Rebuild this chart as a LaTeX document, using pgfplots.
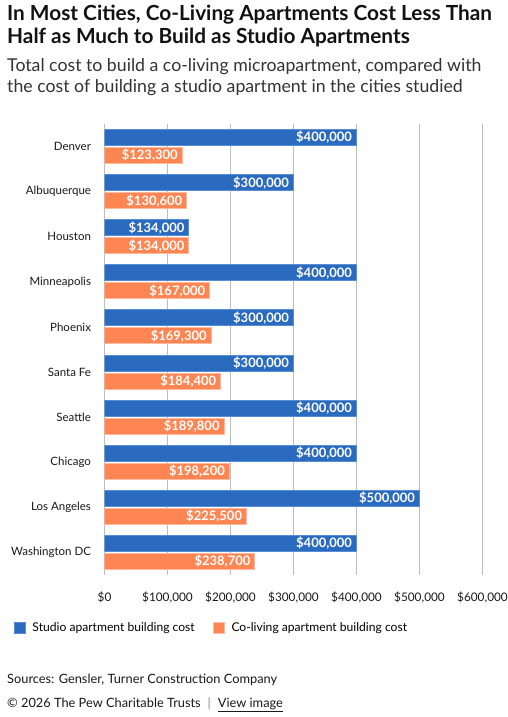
\documentclass[border=0pt]{standalone}
\usepackage{pgfplots}
\pgfplotsset{compat=1.18}
\usepackage{fontspec}
\setmainfont{Lato}
\definecolor{studio}{HTML}{2A6ABF}
\definecolor{studioedge}{HTML}{5A8ED3}
\definecolor{coliv}{HTML}{FF8552}
\definecolor{colivedge}{HTML}{FFBBA2}
\definecolor{gridgray}{HTML}{BDBDBD}
\definecolor{subgray}{HTML}{333333}
\begin{document}
\begin{tikzpicture}
\useasboundingbox (0pt,0pt) rectangle (508pt,-717pt);
\fill[white] (0pt,0pt) rectangle (508pt,-717pt);
\node[anchor=base west, inner sep=0pt, font=\fontsize{20.8}{24}\selectfont\bfseries, text=black!93] at (7pt,-20.7pt) {In Most Cities, Co-Living Apartments Cost Less Than};
\node[anchor=base west, inner sep=0pt, font=\fontsize{20.8}{24}\selectfont\bfseries, text=black!93] at (7pt,-44pt) {Half as Much to Build as Studio Apartments};
\node[anchor=base west, inner sep=0pt, font=\fontsize{17.7}{20}\selectfont, text=subgray] at (7pt,-71.7pt) {Total cost to build a co-living microapartment, compared with};
\node[anchor=base west, inner sep=0pt, font=\fontsize{17.7}{20}\selectfont, text=subgray] at (7pt,-92.7pt) {the cost of building a studio apartment in the cities studied};
\node[anchor=base west, inner sep=0pt, font=\fontsize{12.8}{16}\selectfont, text=black!90] at (7pt,-683.3pt) {Sources: Gensler, Turner Construction Company};
\node[anchor=base west, inner sep=0pt, font=\fontsize{12.8}{16}\selectfont, text=black!90] at (7pt,-707.7pt) {© 2026 The Pew Charitable Trusts\hspace{7pt}{\color{black!45}|}\hspace{7pt}\underline{View image}};
\begin{axis}[
  at={(104.5pt,-124pt)}, anchor=north west,
  scale only axis, width=378pt, height=451pt,
  xbar, bar width=16pt,
  xmin=0, xmax=600000, ymin=-0.5, ymax=9.5, y dir=reverse,
  scaled x ticks=false,
  xtick={0,100000,200000,300000,400000,500000,600000},
  xticklabels={{\$0},{\$100,000},{\$200,000},{\$300,000},{\$400,000},{\$500,000},{\$600,000}},
  ytick={0,1,2,3,4,5,6,7,8,9},
  yticklabels={Denver,Albuquerque,Houston,Minneapolis,Phoenix,Santa Fe,Seattle,Chicago,Los Angeles,Washington DC},
  xmajorgrids, ymajorgrids=false,
  grid style={draw=gridgray, line width=1pt},
  axis line style={draw=none},
  major tick length=0pt,
  xticklabel style={font=\fontsize{11.8}{13}\selectfont, text=black!90, anchor=base, yshift=-26pt},
  yticklabel style={font=\fontsize{11.5}{13}\selectfont, text=black!90, anchor=east, xshift=-10pt},
  /pgf/number format/assume math mode=true,
  point meta=x,
  nodes near coords={\$\pgfmathprintnumber[fixed,precision=0,1000 sep={,}]{\pgfplotspointmeta}},
  every node near coord/.append style={anchor=east, font=\fontsize{13}{14}\selectfont\bfseries, text=white, inner sep=2pt, xshift=-2pt},
  legend columns=2,
  legend style={at={(axis description cs:0,0)}, anchor=west, xshift=-91pt, yshift=-53pt, draw=none, fill=none, inner sep=0pt, font=\fontsize{12.1}{14}\selectfont, /tikz/every even column/.append style={column sep=16pt}, /tikz/every odd column/.append style={column sep=5pt}},
]
\addplot[bar shift=9pt, fill=studio, draw=studioedge, line width=1pt,
  legend image code/.code={\draw[fill=studio, draw=studioedge, line width=0.8pt] (0pt,-5.5pt) rectangle (11pt,5.5pt);}]
  coordinates {(400000,0) (300000,1) (134000,2) (400000,3) (300000,4) (300000,5) (400000,6) (400000,7) (500000,8) (400000,9)};
\addplot[bar shift=-9pt, fill=coliv, draw=colivedge, line width=1pt,
  legend image code/.code={\draw[fill=coliv, draw=colivedge, line width=0.8pt] (0pt,-5.5pt) rectangle (11pt,5.5pt);}]
  coordinates {(123300,0) (130600,1) (134000,2) (167000,3) (169300,4) (184400,5) (189800,6) (198200,7) (225500,8) (238700,9)};
\legend{Studio apartment building cost, Co-living apartment building cost}
\end{axis}
\end{tikzpicture}
\end{document}
